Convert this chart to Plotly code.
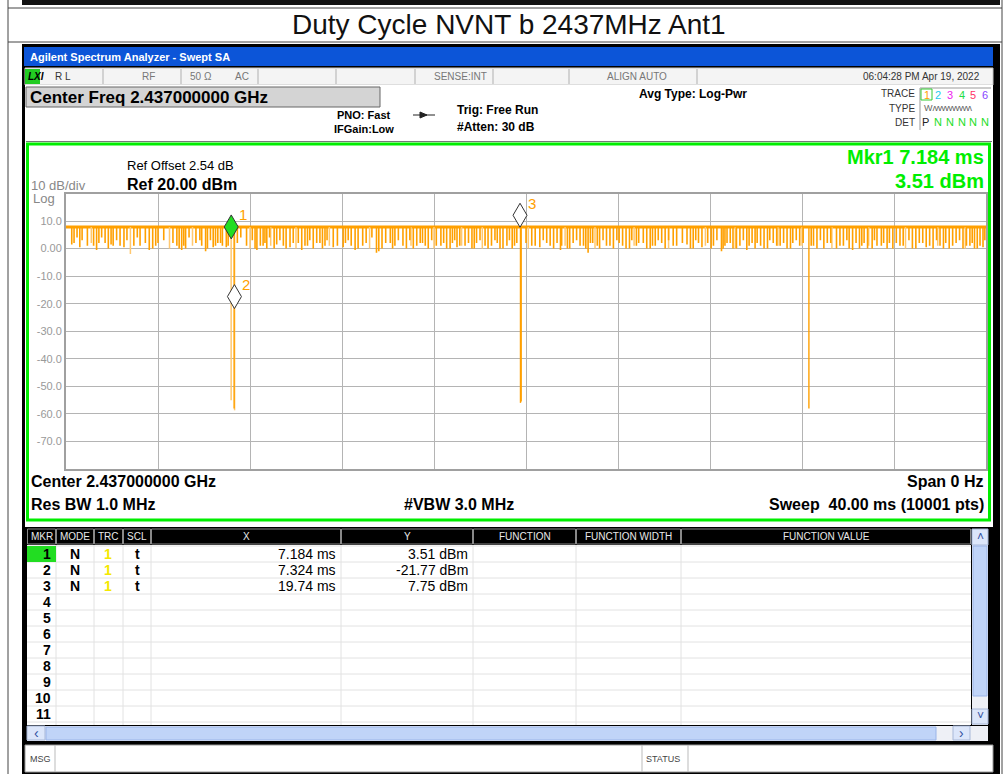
import plotly.graph_objects as go

W, H = 1005, 774

# ---------------- data ----------------
sweep_ms = [0.0, 40.0]
base_dbm = 7.8

dark_dip_ms = [0.25, 0.48, 0.60, 0.93, 1.33, 1.43, 1.84, 1.96, 2.20, 2.35, 2.52, 3.22, 3.62, 3.77, 4.00,
               4.82, 5.03, 5.20, 5.82, 5.90, 6.07, 6.40, 6.60, 6.80, 6.97, 8.22, 8.30, 8.57, 8.73, 9.16,
               9.57, 9.74, 9.88, 10.25, 10.39, 10.75, 11.04, 11.26, 11.62, 12.05, 12.27, 12.57, 12.90,
               13.50, 13.74, 14.10, 14.30, 14.45, 14.80, 15.25, 15.50, 15.75, 16.30, 16.55, 16.80, 17.00,
               17.35, 17.65, 17.85, 18.35, 18.50, 18.65, 18.87, 19.17, 19.40, 19.60, 20.25, 20.60, 20.90,
               21.20, 21.50, 21.55, 21.90, 22.05, 22.50, 22.70, 22.90, 23.20, 23.50, 23.80, 23.95, 24.20,
               24.50, 24.90, 25.25, 25.50, 25.75, 26.05, 26.40, 27.00, 27.27, 27.50, 27.65, 28.15, 28.50,
               28.57, 28.74, 29.00, 29.30, 29.60, 29.83, 29.96, 30.20, 30.50, 30.75, 31.05, 31.50, 31.60,
               31.90, 32.50, 32.65, 33.10, 33.50, 33.80, 34.20, 34.50, 34.70, 35.05, 35.26, 35.70, 35.80,
               36.26, 36.80, 37.10, 37.40, 37.70, 38.00, 38.40, 38.70, 39.00, 39.30, 39.50, 39.74, 39.87]
dark_dip_dbm = [1.5, 4.0, 0.5, 1.0, -0.5, 2.0, 0.0, 1.5, 3.0, 1.0, 0.5, 1.0, -0.5, 0.0, 2.0,
                1.0, -0.5, 0.0, 3.0, 1.0, -1.0, 0.5, 2.0, 1.0, 0.5, 0.0, -0.5, 1.0, 0.0, 1.5,
                0.0, 0.5, 2.0, -0.5, 1.0, 0.0, 2.0, 1.0, 0.5, 0.5, 3.0, -0.5, 1.0,
                -1.5, 0.0, 2.0, 1.0, 3.0, 0.0, 1.0, 2.0, 0.0, 1.0, 0.0, 2.0, 0.5,
                1.0, 0.0, 2.0, 0.0, 1.0, 3.0, 0.0, 1.0, 0.0, 2.0, 1.0, 0.5, 2.0,
                0.0, -0.5, 1.0, 0.0, 2.0, 1.0, -1.5, 2.0, 0.0, 1.0, 0.0, 3.0, 1.0,
                0.0, 2.0, 0.0, 1.0, 3.0, 0.0, 1.0, 1.5, 0.0, 2.0, 0.5, 1.0, -1.0,
                0.0, 2.0, 0.0, 1.0, -0.5, 2.0, 0.0, 1.0, 0.0, 2.0, 1.0, 0.0, 2.0,
                1.0, 1.0, 0.0, 2.0, 0.0, 1.0, -0.5, 0.0, 2.0, 0.0, 1.0, 0.0, 2.0,
                1.0, 0.0, 2.0, 0.5, 0.0, 1.0, 0.0, 2.0, 0.0, 1.0, 0.0, 1.0, 0.5]

extra_dip_ms = [0.35, 0.70, 1.20, 1.55, 1.70, 2.05, 2.65, 2.95, 3.10, 3.45, 3.90, 4.25, 4.65, 4.92, 5.12,
                5.35, 5.65, 6.15, 6.28, 6.50, 6.72, 7.05, 7.45, 7.60, 7.85, 8.10, 8.45, 8.65, 8.85, 9.05,
                9.30, 9.45, 10.10, 10.50, 10.60, 10.90, 11.15, 11.35, 11.80, 12.15, 12.40, 12.70, 13.05,
                13.30, 13.60, 13.90, 14.20, 14.65, 14.95, 15.10, 15.40, 15.62, 15.90, 16.10, 16.42, 16.70,
                16.90, 17.12, 17.50, 17.75, 18.00, 18.22, 18.75, 19.00, 19.28, 19.50, 20.00, 20.40, 20.75,
                21.05, 21.35, 21.80, 22.20, 22.35, 22.60, 22.80, 23.10, 23.35, 23.65, 24.05, 24.35, 24.60,
                24.80, 25.10, 25.40, 25.62, 25.90, 26.20, 26.55, 26.80, 27.15, 27.38, 27.90, 28.05, 28.30,
                28.65, 28.88, 29.15, 29.45, 29.70, 30.05, 30.35, 30.60, 30.90, 31.20, 31.35, 31.75, 32.05,
                32.40, 32.80, 32.95, 33.25, 33.65, 33.95, 34.05, 34.35, 34.60, 34.85, 35.15, 35.45, 35.55,
                35.95, 36.10, 36.40, 36.65, 36.95, 37.25, 37.55, 37.85, 38.15, 38.25, 38.55, 38.85, 39.15,
                39.40, 39.62, 39.95]
extra_dip_dbm = [2.0, 3.0, 1.0, 4.0, 2.0, 1.0, 3.0, 1.0, 4.0, 2.0, 1.0, 3.0, 2.0, 0.0, 1.0,
                 4.0, 2.0, 0.0, 3.0, 1.0, 2.0, 1.0, 2.0, 4.0, 1.0, 3.0, 1.0, 2.0, 4.0, 0.0,
                 3.0, 1.0, 2.0, 1.0, 3.0, 2.0, 0.0, 3.0, 1.0, 2.0, 1.0, 0.0, 2.0,
                 4.0, -1.0, 2.0, 0.0, 1.0, 3.0, 0.0, 2.0, 1.0, 3.0, 1.0, 2.0, 0.0,
                 3.0, 1.0, 2.0, 0.0, 3.0, 1.0, 2.0, 0.0, 3.0, 1.0, 2.0, 1.0, 3.0,
                 1.0, 2.0, 0.0, 3.0, 1.0, 0.0, 2.0, 1.0, 3.0, 1.0, 2.0, 0.0, 3.0,
                 1.0, 2.0, 0.0, 1.0, 2.0, 3.0, 1.0, 2.0, 0.0, 3.0, 2.0, 0.0, 3.0,
                 1.0, 2.0, 0.0, 3.0, 1.0, 2.0, 0.0, 3.0, 1.0, 2.0, 0.0, 3.0, 2.0,
                 1.0, 3.0, 0.0, 2.0, 1.0, 3.0, 0.0, 2.0, 1.0, 0.0, 3.0, 1.0, 2.0,
                 0.0, 2.0, 1.0, 3.0, 0.0, 2.0, 1.0, 3.0, 0.0, 2.0, 1.0, 3.0, 1.0,
                 2.0, 0.0, 3.0]

light_dip_ms = [1.10, 2.80, 4.50, 5.50, 8.00, 8.90, 10.00, 11.45, 13.20, 15.00, 16.00, 17.20, 18.10,
                20.10, 21.70, 23.00, 24.70, 26.20, 27.80, 29.10, 30.95, 32.00, 33.30, 34.90, 36.50,
                37.90, 39.10]
light_dip_dbm = [2.0, -2.0, 0.0, 1.0, 0.0, 1.0, 0.0, 1.0, 0.0, 1.0, 0.0, 1.0, 0.0,
                 0.0, 1.0, 0.0, 1.0, 0.0, 1.0, 0.0, 1.0, 1.0, 0.0, 1.0, 0.0,
                 1.0, 0.0]

deep_light_ms = [7.18, 7.33]
deep_light_dbm = [-55.0, -58.7]
deep_dark_ms = [7.31, 19.76, 19.79, 32.30]
deep_dark_dbm = [-58.0, -56.0, -55.5, -58.0]

marker_ms = [7.184, 7.324, 19.74]
marker_dbm = [3.51, -21.77, 7.75]
marker_labels = ["1", "2", "3"]

y_tick_vals = [10, 0, -10, -20, -30, -40, -50, -60, -70]
y_tick_text = ["10.0", "0.00", "-10.0", "-20.0", "-30.0", "-40.0", "-50.0", "-60.0", "-70.0"]

tbl_mkr = ["1", "2", "3", "4", "5", "6", "7", "8", "9", "10", "11"]
tbl_mode = ["N", "N", "N"]
tbl_trc = ["1", "1", "1"]
tbl_scl = ["t", "t", "t"]
tbl_x = ["7.184 ms", "7.324 ms", "19.74 ms"]
tbl_y = ["3.51 dBm", "-21.77 dBm", "7.75 dBm"]

# ---------------- helpers ----------------
FONT = "Liberation Sans, Arial, sans-serif"
NARROW = "Liberation Sans Narrow, Arial Narrow, Liberation Sans, sans-serif"
ORANGE = "#FFA000"
LIGHT_OR = "#FFC870"

shapes = []
annos = []


def fx(x):
    return x / W


def fy(y):
    return 1 - y / H


def rect(x0, y0, x1, y1, fill=None, line=None, lw=1, layer="below"):
    shapes.append(dict(type="rect", xref="paper", yref="paper", x0=fx(x0), x1=fx(x1), y0=fy(y1), y1=fy(y0),
                       fillcolor=fill if fill else "rgba(0,0,0,0)",
                       line=dict(color=line if line else "rgba(0,0,0,0)", width=lw if line else 0),
                       layer=layer))


def hline(x0, x1, y, color, lw=1, layer="below"):
    shapes.append(dict(type="line", xref="paper", yref="paper", x0=fx(x0), x1=fx(x1), y0=fy(y), y1=fy(y),
                       line=dict(color=color, width=lw), layer=layer))


def vline(x, y0, y1, color, lw=1, layer="below"):
    shapes.append(dict(type="line", xref="paper", yref="paper", x0=fx(x), x1=fx(x), y0=fy(y0), y1=fy(y1),
                       line=dict(color=color, width=lw), layer=layer))


def text(x, y, s, size=12, color="black", bold=False, anchor="left", family=FONT):
    if bold:
        s = "<b>" + s + "</b>"
    annos.append(dict(xref="paper", yref="paper", x=fx(x), y=fy(y), text=s, showarrow=False,
                      xanchor=anchor, yanchor="middle", font=dict(size=size, color=color, family=family)))


# ---------------- page frame ----------------
rect(22, 0, 1000, 5, fill="#111111")
vline(8, 0, 774, "#444444", 1)
vline(1002, 0, 774, "#444444", 1)
hline(8, 1002, 8, "#444444", 1)
hline(8, 1002, 42, "#444444", 1)
text(509, 25, "Duty Cycle NVNT b 2437MHz Ant1", size=28, color="#111111", anchor="center", family=NARROW)

# instrument window
rect(22, 44, 1000, 774, fill="#000000")
rect(24, 47, 993, 66, fill="#0C55D8")
text(28, 57, "Agilent Spectrum Analyzer - Swept SA", size=11, color="white", bold=True)

# status row
rect(25, 68, 993, 85, fill="#F4F4F4", line="#C8C8C8")
rect(25, 69, 40, 84, fill="#22CC22")
text(26, 76.5, "<i>LXI</i>", size=10, color="black", bold=True)
for sx in [103, 181, 258, 336, 415, 493, 569, 697]:
    vline(sx, 69, 84, "#B0B0B0")
text(53, 76.5, "R L", size=10, color="#333333")
text(140, 76.5, "RF", size=10, color="#777777")
text(188, 76.5, "50 Ω", size=10, color="#777777")
text(233, 76.5, "AC", size=10, color="#777777")
text(432, 76.5, "SENSE:INT", size=10, color="#777777")
text(605, 76.5, "ALIGN AUTO", size=10, color="#777777")
text(982, 76.5, "06:04:28 PM Apr 19, 2022", size=10, color="#333333", anchor="right")

# info area
rect(25, 85, 993, 142, fill="white")
rect(26, 87, 380, 107, fill="#D4D4D4", line="#666666", lw=1)
text(28, 97, "Center Freq 2.437000000 GHz", size=17, bold=True)
text(335, 115, "PNO: Fast", size=11, bold=True)
text(332, 129, "IFGain:Low", size=11, bold=True)
hline(413, 435, 115, "#222222", 1)
shapes.append(dict(type="path", xref="paper", yref="paper",
                   path="M %f,%f L %f,%f L %f,%f Z" % (fx(420), fy(112), fx(420), fy(118), fx(427), fy(115)),
                   fillcolor="#222222", line=dict(color="#222222", width=1)))
text(455, 110, "Trig: Free Run", size=12, bold=True)
text(455, 127, "#Atten: 30 dB", size=12, bold=True)
text(637, 94, "Avg Type: Log-Pwr", size=12, bold=True)
text(917, 93, "TRACE", size=10, color="#333333", anchor="right")
text(917, 108, "TYPE", size=10, color="#333333", anchor="right")
text(917, 122, "DET", size=10, color="#333333", anchor="right")
vline(920, 88, 130, "#999999")
hline(920, 991, 88, "#999999")
rect(921, 89, 932, 100, line="#33CC33")
trace_cols = ["#FFA000", "#22CCEE", "#EE22EE", "#22DD44", "#FF3366", "#8844FF"]
for i, c in enumerate(trace_cols):
    text(926.5 + i * 11.7, 94.5, str(i + 1), size=11, color=c, anchor="center")
text(922, 108, "W<span style='letter-spacing:-1px'>ʌʌʌʌʌʌʌʌʌʌʌ</span>", size=9, color="#666666")
text(925.5, 122, "P", size=11, color="#222222", anchor="center")
for i in range(5):
    text(938.2 + i * 11.7, 122, "N", size=11, color="#22DD22", anchor="center")

# graph frame
rect(25, 142, 993, 527, fill="white")
hline(26, 992, 141.5, "#777777", 1)
rect(27.5, 144, 989.5, 520, line="#00EE00", lw=3)
text(125, 166, "Ref Offset 2.54 dB", size=13)
text(125, 184, "Ref 20.00 dBm", size=16, bold=True)
text(29, 185, "10 dB/div", size=13, color="#888888")
text(31, 198, "Log", size=13, color="#888888", bold=False)
text(986, 157, "Mkr1 7.184 ms", size=20, color="#00EE00", bold=True, anchor="right")
text(986, 181, "3.51 dBm", size=20, color="#00EE00", bold=True, anchor="right")
text(29, 482, "Center 2.437000000 GHz", size=16, bold=True)
text(29, 504, "Res BW 1.0 MHz", size=16, bold=True)
text(459, 504, "#VBW 3.0 MHz", size=16, bold=True, anchor="center")
text(985, 482, "Span 0 Hz", size=16, bold=True, anchor="right")
text(986, 504, "Sweep  40.00 ms (10001 pts)", size=16, bold=True, anchor="right")

# marker table
rect(25, 527, 993, 744, fill="#000000")
rect(27, 545, 971, 725, fill="white")
col_edges = [27, 56, 94, 123, 151, 341, 473, 576, 681, 971]
col_names = ["MKR", "MODE", "TRC", "SCL", "X", "Y", "FUNCTION", "FUNCTION WIDTH", "FUNCTION VALUE"]
for i, nm in enumerate(col_names):
    x0, x1 = col_edges[i], col_edges[i + 1]
    rect(x0 + 0.5, 529, x1 - 0.5, 544, fill="#000000", line="#888888", lw=1)
    text((x0 + x1) / 2, 536.5, nm, size=10, color="#E8E8E8", anchor="center", family=NARROW)
for r in range(12):
    hline(27, 971, 546 + r * 16, "#E2E2E2")
for cx in col_edges[1:-1]:
    vline(cx, 545, 725, "#E2E2E2")
rect(27, 546, 56, 562, fill="#22DD22")
for r, m in enumerate(tbl_mkr):
    yy = 554 + r * 16
    text(53, yy, m, size=14, bold=True, anchor="right")
for r in range(len(tbl_mode)):
    yy = 554 + r * 16
    text(75, yy, tbl_mode[r], size=14, bold=True, anchor="center")
    text(108, yy, tbl_trc[r], size=14, color="#F4E800", bold=True, anchor="center")
    text(137, yy, tbl_scl[r], size=14, bold=True, anchor="center")
    text(338, yy, tbl_x[r], size=14, anchor="right")
    text(470, yy, tbl_y[r], size=14, anchor="right")
# vertical scrollbar
rect(972, 529, 988, 725, fill="#EEF0F6")
rect(972, 529, 988, 545, fill="#DCE6FA", line="#A8B8D8")
text(980, 537, "˄", size=12, color="#3050A0", anchor="center")
rect(973, 546, 987, 696, fill="#C0D4F8", line="#9AB4E8")
rect(972, 709, 988, 724, fill="#DCE6FA", line="#A8B8D8")
text(980, 716, "˅", size=12, color="#3050A0", anchor="center")
# horizontal scrollbar
rect(27, 726, 988, 741, fill="#EEF0F6")
rect(27, 726, 45, 740, fill="#DCE6FA", line="#A8B8D8")
text(36, 733, "‹", size=14, color="#3050A0", anchor="center")
rect(46, 727, 936, 740, fill="#C0D4F8", line="#9AB4E8")
rect(953, 726, 970, 740, fill="#DCE6FA", line="#A8B8D8")
text(961.5, 733, "›", size=14, color="#3050A0", anchor="center")
# message bar
rect(25, 745, 993, 772, fill="white", line="#999999")
vline(55, 745, 772, "#BBBBBB")
vline(642, 745, 772, "#BBBBBB")
vline(688, 745, 772, "#BBBBBB")
text(28, 758.5, "MSG", size=9, color="#444444")
text(644, 758.5, "STATUS", size=9, color="#444444")

# ---------------- traces ----------------
def segments(xs, ys, top):
    sx, sy = [], []
    for t, d in zip(xs, ys):
        sx += [t, t, None]
        sy += [top, d, None]
    return sx, sy


fig = go.Figure()
fig.add_trace(go.Scatter(x=sweep_ms, y=[base_dbm, base_dbm], mode="lines",
                         line=dict(color=ORANGE, width=3), hoverinfo="skip"))
lx, ly = segments(light_dip_ms + deep_light_ms, light_dip_dbm + deep_light_dbm, base_dbm)
fig.add_trace(go.Scatter(x=lx, y=ly, mode="lines", line=dict(color=LIGHT_OR, width=1.5), hoverinfo="skip"))
dx, dy = segments(dark_dip_ms + extra_dip_ms, dark_dip_dbm + extra_dip_dbm, base_dbm)
fig.add_trace(go.Scatter(x=dx, y=dy, mode="lines", line=dict(color=ORANGE, width=1.6), hoverinfo="skip"))
ddx, ddy = segments(deep_dark_ms, deep_dark_dbm, base_dbm)
fig.add_trace(go.Scatter(x=ddx, y=ddy, mode="lines", line=dict(color=ORANGE, width=1.4), hoverinfo="skip"))

# markers: diamonds whose lower tip sits on the marker value
for i, (mx, my, lab) in enumerate(zip(marker_ms, marker_dbm, marker_labels)):
    fill = "#22DD22" if i == 0 else "white"
    shapes.append(dict(type="path", xref="x", yref="y", xsizemode="pixel", ysizemode="pixel",
                       xanchor=mx, yanchor=my, path="M0,0 L7,12 L0,24 L-7,12 Z",
                       fillcolor=fill, line=dict(color="#333333", width=1), layer="above"))
    annos.append(dict(xref="x", yref="y", x=mx, y=my, text=lab, showarrow=False, xshift=12, yshift=24,
                      xanchor="center", yanchor="middle", font=dict(size=15, color=ORANGE, family=FONT)))

fig.update_layout(
    width=W, height=H, margin=dict(l=0, r=0, t=0, b=0),
    paper_bgcolor="white", plot_bgcolor="white", showlegend=False,
    shapes=shapes, annotations=annos,
    xaxis=dict(domain=[fx(66), fx(986)], range=sweep_ms, dtick=4, tick0=0, showticklabels=False,
               showgrid=True, gridcolor="#B4B4B4", gridwidth=1, zeroline=False,
               showline=True, mirror=True, linecolor="#A0A0A0", linewidth=2, ticks=""),
    yaxis=dict(domain=[fy(469), fy(193.5)], range=[-80, 20], tickvals=y_tick_vals, ticktext=y_tick_text,
               showgrid=True, gridcolor="#B4B4B4", gridwidth=1, zeroline=False,
               showline=True, mirror=True, linecolor="#A0A0A0", linewidth=2, ticks="",
               tickfont=dict(size=11, color="#999999", family=FONT)),
)

fig.write_html("out.html", config={"displayModeBar": False},
               post_script="document.body.style.margin='0';document.body.style.overflow='hidden';")
